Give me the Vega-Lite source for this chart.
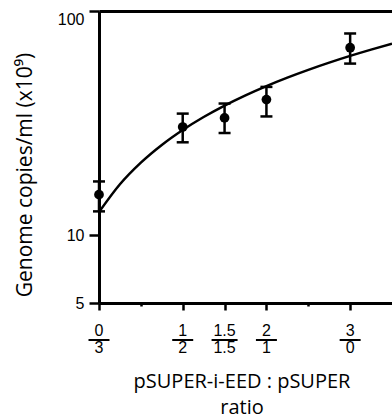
{
  "$schema": "https://vega.github.io/schema/vega-lite/v6.json",
  "autosize": "none",
  "width": 293,
  "height": 292,
  "padding": {"left": 99, "top": 11, "right": 0, "bottom": 117},
  "background": "white",
  "datasets": {
    "points": [
      {"r": 0, "v": 15.2, "lo": 12.8, "hi": 17.4},
      {"r": 1, "v": 30.4, "lo": 26.0, "hi": 34.9},
      {"r": 1.5, "v": 33.4, "lo": 28.6, "hi": 38.7},
      {"r": 2, "v": 40.3, "lo": 33.9, "hi": 45.9},
      {"r": 3, "v": 68.6, "lo": 58.3, "hi": 79.4}
    ],
    "fit": [
      {"r": 0, "v": 12.7}, {"r": 0.25, "v": 16.9}, {"r": 0.5, "v": 21.1},
      {"r": 0.75, "v": 25.3}, {"r": 1, "v": 29.5}, {"r": 1.25, "v": 33.7},
      {"r": 1.5, "v": 37.9}, {"r": 1.75, "v": 42.1}, {"r": 2, "v": 46.3},
      {"r": 2.25, "v": 50.5}, {"r": 2.5, "v": 54.7}, {"r": 2.75, "v": 58.9},
      {"r": 3, "v": 63.1}, {"r": 3.25, "v": 67.3}, {"r": 3.5, "v": 71.5}
    ],
    "labels": [
      {"r": 0, "num": "0", "den": "3"},
      {"r": 1, "num": "1", "den": "2"},
      {"r": 1.5, "num": "1.5", "den": "1.5"},
      {"r": 2, "num": "2", "den": "1"},
      {"r": 3, "num": "3", "den": "0"}
    ]
  },
  "resolve": {"axis": {"x": "independent", "y": "independent"}},
  "layer": [
    {
      "data": {"name": "fit"},
      "mark": {"type": "line", "color": "black", "strokeWidth": 2.5, "interpolate": "monotone", "clip": true},
      "encoding": {
        "x": {"field": "r", "type": "quantitative",
              "scale": {"domain": [0, 3.5], "nice": false, "zero": false},
              "axis": {"orient": "top", "labels": false, "ticks": false, "title": null, "domainWidth": 3}},
        "y": {"field": "v", "type": "quantitative",
              "scale": {"type": "log", "domain": [5, 100], "nice": false},
              "axis": {
                "orient": "left",
                "values": [5, 10, 100],
                "title": "Genome copies/ml (x10⁹)",
                "titleFont": "Open Sans", "titleFontSize": 21, "titleFontWeight": "normal",
                "titleX": -68, "titleY": 163.5, "titleAlign": "center", "titleBaseline": "alphabetic", "titleAngle": 270,
                "labelFont": "Liberation Sans", "labelFontSize": 16, "labelPadding": 5,
                "labelBaseline": {"condition": {"test": "datum.value == 100", "value": "top"}, "value": "middle"},
                "tickSize": 10, "tickWidth": 2.5, "domainWidth": 3
              }}
      }
    },
    {
      "data": {"name": "points"},
      "mark": {"type": "errorbar", "ticks": {"color": "black", "opacity": 1}, "rule": {"color": "black", "opacity": 1}, "size": 12, "thickness": 2.5, "color": "black", "opacity": 1},
      "encoding": {
        "x": {"field": "r", "type": "quantitative", "axis": null},
        "y": {"field": "lo", "type": "quantitative", "axis": null},
        "y2": {"field": "hi"}
      }
    },
    {
      "data": {"name": "points"},
      "mark": {"type": "circle", "size": 95, "color": "black", "opacity": 1},
      "encoding": {
        "x": {"field": "r", "type": "quantitative",
              "axis": {
                "orient": "bottom",
                "values": [0, 0.5, 1, 1.5, 2, 2.5, 3],
                "labels": false,
                "tickSize": {"condition": {"test": "datum.value == 0.5 || datum.value == 2.5", "value": 3}, "value": 7},
                "tickWidth": 2.5, "domainWidth": 3,
                "title": ["pSUPER-i-EED : pSUPER", "ratio"],
                "titleFont": "Open Sans", "titleFontSize": 20, "titleFontWeight": "normal",
                "titleX": 142.5, "titleY": 84, "titleAlign": "center", "titleBaseline": "alphabetic", "titleLineHeight": 26
              }},
        "y": {"field": "v", "type": "quantitative", "axis": null}
      }
    },
    {
      "data": {"name": "labels"},
      "mark": {"type": "text", "font": "Liberation Sans", "fontSize": 16, "baseline": "alphabetic", "align": "center", "color": "black"},
      "encoding": {
        "x": {"field": "r", "type": "quantitative", "axis": null},
        "y": {"datum": 3.56, "type": "quantitative", "axis": null},
        "text": {"field": "num"}
      }
    },
    {
      "data": {"name": "labels"},
      "mark": {"type": "tick", "orient": "horizontal", "thickness": 2, "color": "black", "opacity": 1},
      "encoding": {
        "x": {"field": "r", "type": "quantitative", "axis": null},
        "y": {"datum": 3.42, "type": "quantitative", "axis": null},
        "size": {"condition": {"test": "datum.r == 1.5", "value": 26}, "value": 21}
      }
    },
    {
      "data": {"name": "labels"},
      "mark": {"type": "text", "font": "Liberation Sans", "fontSize": 16, "baseline": "alphabetic", "align": "center", "color": "black"},
      "encoding": {
        "x": {"field": "r", "type": "quantitative", "axis": null},
        "y": {"datum": 2.99, "type": "quantitative", "axis": null},
        "text": {"field": "den"}
      }
    }
  ],
  "config": {
    "view": {"stroke": null},
    "axis": {"grid": false, "domainColor": "black", "tickColor": "black", "labelColor": "black", "titleColor": "black"}
  }
}
